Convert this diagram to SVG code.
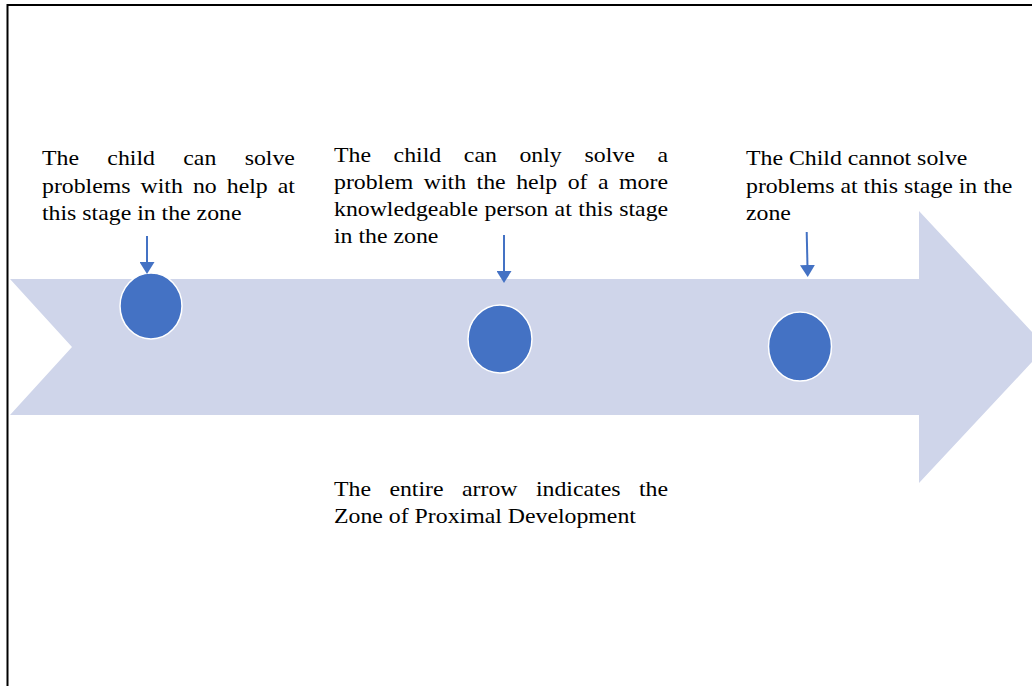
<svg xmlns="http://www.w3.org/2000/svg" width="1032" height="686" viewBox="0 0 1032 686">
<style>
  .t { font-family: "Liberation Serif", "Times New Roman", serif; font-size: 22px; fill: #000; }
  .dot { fill: #4472C4; stroke: #ffffff; stroke-width: 1.5; }
  .pt { stroke: #4472C4; stroke-width: 2; fill: none; marker-end: url(#ah); }
</style>
<defs>
  <marker id="ah" markerUnits="userSpaceOnUse" viewBox="0 0 12 15" markerWidth="12" markerHeight="15" refX="2" refY="7.5" orient="auto">
    <path d="M0,0 L12,7.5 L0,15 z" fill="#4472C4"/>
  </marker>
</defs>
<rect width="1032" height="686" fill="#ffffff"/>
<path d="M7.5,686 V5 H1032" fill="none" stroke="#000" stroke-width="2"/>

<g id="zpd-arrow">
  <polygon points="10,279 919,279 919,211 1046,347 919,483 919,415 10,415 72,347" fill="#CFD5EA"/>
</g>

<g id="stage1">
  <ellipse class="dot" cx="151" cy="306" rx="31" ry="33"/>
</g>
<g id="stage2">
  <ellipse class="dot" cx="500" cy="339" rx="32" ry="34"/>
</g>
<g id="stage3">
  <ellipse class="dot" cx="800" cy="346.5" rx="31.5" ry="34.5"/>
</g>

<g id="connectors">
  <line class="pt" x1="147" y1="236" x2="147" y2="264"/>
  <line class="pt" x1="504" y1="235" x2="504" y2="273"/>
  <line class="pt" x1="806.7" y1="232" x2="807.5" y2="267"/>
</g>

<g id="label1" transform="translate(42,0) scale(1.082,1)">
  <text class="t" y="165.3"><tspan x="0">The</tspan><tspan x="60.4">child</tspan><tspan x="130.6">can</tspan><tspan x="187.3">solve</tspan></text>
  <text class="t" y="192.9"><tspan x="0">problems</tspan><tspan x="91.1">with</tspan><tspan x="139.5">no</tspan><tspan x="170.75">help</tspan><tspan x="217.9">at</tspan></text>
  <text class="t" x="0" y="220.5">this stage in the zone</text>
</g>

<g id="label2" transform="translate(334,0) scale(1.082,1)">
  <text class="t" y="161.6"><tspan x="0">The</tspan><tspan x="55.1">child</tspan><tspan x="120.0">can</tspan><tspan x="171.4">only</tspan><tspan x="231.5">solve</tspan><tspan x="298.9">a</tspan></text>
  <text class="t" y="188.9"><tspan x="0">problem</tspan><tspan x="83.0">with</tspan><tspan x="131.8">the</tspan><tspan x="168.4">help</tspan><tspan x="216.0">of</tspan><tspan x="244.0">a</tspan><tspan x="263.5">more</tspan></text>
  <text class="t" y="216.2"><tspan x="0">knowledgeable</tspan><tspan x="139.2">person</tspan><tspan x="203.9">at</tspan><tspan x="225.8">this</tspan><tspan x="263.6">stage</tspan></text>
  <text class="t" x="0" y="243.5">in the zone</text>
</g>

<g id="label3" transform="translate(746,0) scale(1.082,1)">
  <text class="t" x="0" y="165.3">The Child cannot solve</text>
  <text class="t" x="0" y="192.9">problems at this stage in the</text>
  <text class="t" x="0" y="220.5">zone</text>
</g>

<g id="label4" transform="translate(334,0) scale(1.082,1)">
  <text class="t" y="496"><tspan x="0">The</tspan><tspan x="51.2">entire</tspan><tspan x="118.3">arrow</tspan><tspan x="186.6">indicates</tspan><tspan x="281.8">the</tspan></text>
  <text class="t" x="0" y="523.3">Zone of Proximal Development</text>
</g>
</svg>
